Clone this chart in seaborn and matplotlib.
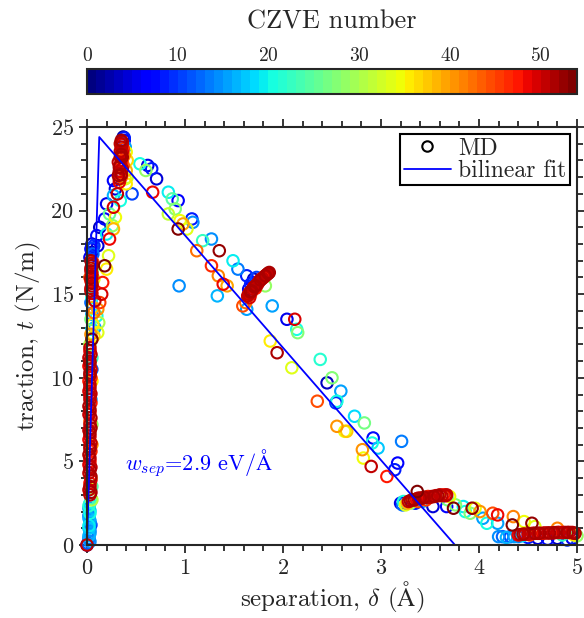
import numpy as np
import pandas as pd
import matplotlib
matplotlib.use('Agg')
import matplotlib.pyplot as plt
import seaborn as sns
from matplotlib.colors import Normalize
from matplotlib.lines import Line2D
from matplotlib.ticker import MultipleLocator

sns.set_style('ticks')
plt.rcParams['font.family'] = ['cmr10', 'DejaVu Serif']
plt.rcParams['mathtext.fontset'] = 'cm'
plt.rcParams['axes.formatter.use_mathtext'] = True

# MD points: (separation, traction, CZVE number)
column_pts = [
    (0.00, 0.0, 2), (0.01, 0.1, 11), (0.02, 0.4, 12), (0.03, 0.7, 15), (0.02, 1.0, 17),
    (0.03, 1.3, 13), (0.02, 1.6, 16), (0.03, 1.9, 20), (0.02, 2.2, 14), (0.03, 2.5, 18),
    (0.03, 0.2, 14), (0.02, 0.55, 16), (0.03, 0.85, 13), (0.02, 1.15, 19), (0.03, 1.45, 15),
    (0.02, 1.75, 12), (0.03, 2.05, 17), (0.02, 2.35, 21), (0.04, 2.8, 23), (0.04, 1.2, 10),
    (0.03, 3.0, 50), (0.02, 3.3, 50), (0.03, 3.7, 47), (0.04, 4.1, 51), (0.03, 4.5, 51),
    (0.02, 4.8, 49), (0.03, 5.2, 50), (0.04, 5.6, 46), (0.03, 5.9, 50), (0.02, 6.3, 48),
    (0.03, 6.7, 51), (0.04, 7.0, 51), (0.03, 7.4, 44), (0.02, 7.8, 50), (0.03, 8.1, 51),
    (0.04, 8.5, 47), (0.03, 8.9, 50), (0.02, 9.2, 49), (0.03, 9.6, 50), (0.04, 10.0, 46),
    (0.03, 10.3, 51), (0.02, 10.7, 48), (0.03, 11.0, 51), (0.04, 11.4, 50), (0.03, 11.8, 50),
    (0.04, 3.15, 51), (0.03, 3.5, 51), (0.04, 3.9, 49), (0.02, 4.3, 50), (0.04, 4.65, 50),
    (0.03, 5.0, 47), (0.02, 5.4, 51), (0.03, 5.75, 51), (0.04, 6.1, 50), (0.03, 6.5, 49),
    (0.02, 6.85, 50), (0.03, 7.2, 50), (0.04, 7.6, 51), (0.03, 7.95, 48), (0.02, 8.3, 51),
    (0.03, 8.7, 50), (0.04, 9.05, 50), (0.03, 9.4, 50), (0.02, 9.8, 47), (0.03, 10.15, 51),
    (0.04, 10.5, 49), (0.03, 10.85, 50), (0.02, 11.2, 50), (0.03, 11.6, 48),
    (0.05, 11.2, 22), (0.05, 9.8, 35), (0.04, 8.7, 15), (0.05, 7.2, 28), (0.05, 6.0, 40),
    (0.04, 4.0, 33), (0.05, 3.5, 24), (0.05, 2.7, 30), (0.05, 10.5, 12), (0.00, 0.0, 50),
    (0.05, 12.3, 53), (0.03, 12.0, 30), (0.05, 12.9, 18), (0.04, 12.6, 40), (0.04, 13.5, 26),
    (0.05, 13.8, 15), (0.06, 14.2, 38), (0.04, 14.5, 12), (0.05, 14.8, 20), (0.07, 13.9, 42),
    (0.08, 14.6, 50), (0.07, 12.5, 36), (0.11, 12.7, 33), (0.06, 13.2, 35),
    (0.04, 17.0, 51), (0.05, 16.7, 51), (0.04, 16.4, 49), (0.05, 16.1, 50), (0.04, 15.8, 47),
    (0.05, 15.5, 50), (0.04, 15.2, 50), (0.06, 16.9, 45), (0.03, 16.0, 44), (0.06, 16.5, 28),
    (0.05, 16.85, 50), (0.04, 16.55, 50), (0.05, 16.25, 48), (0.04, 15.95, 51), (0.05, 15.65, 51),
    (0.04, 15.35, 50), (0.05, 15.05, 49),
    (0.07, 15.9, 33), (0.05, 18.0, 3), (0.04, 17.7, 7), (0.06, 17.4, 12), (0.03, 17.2, 5),
    (0.07, 17.9, 9), (0.05, 17.5, 2), (0.06, 17.75, 10),
]

rise_pts = [
    (0.27, 21.8, 6), (0.29, 21.3, 4), (0.31, 21.0, 50), (0.27, 20.9, 16), (0.46, 21.0, 10),
    (0.20, 20.4, 5), (0.27, 20.2, 49), (0.34, 20.6, 20), (0.23, 19.8, 25), (0.29, 19.6, 34),
    (0.18, 19.5, 6), (0.26, 19.1, 28), (0.13, 19.0, 3), (0.20, 18.6, 19), (0.27, 18.9, 38),
    (0.23, 18.3, 48), (0.10, 18.5, 7), (0.11, 17.9, 4), (0.22, 17.3, 33), (0.20, 16.5, 35),
    (0.18, 16.7, 53), (0.16, 15.7, 47), (0.15, 15.0, 49), (0.13, 14.5, 45), (0.11, 14.1, 40),
    (0.10, 13.7, 20), (0.12, 13.3, 30), (0.08, 13.0, 15),
]

peak_pts = [
    (0.37, 24.4, 2), (0.38, 24.2, 6), (0.36, 24.0, 10), (0.39, 23.8, 15), (0.38, 24.35, 8),
    (0.40, 23.5, 34), (0.41, 23.0, 36), (0.40, 22.4, 38), (0.39, 21.9, 33), (0.41, 22.0, 31),
    (0.40, 21.6, 35), (0.36, 24.1, 50), (0.35, 23.8, 50), (0.36, 23.5, 49), (0.34, 23.2, 51),
    (0.35, 22.9, 47), (0.33, 22.6, 51), (0.34, 22.3, 46), (0.32, 22.1, 51), (0.35, 22.0, 44),
    (0.33, 21.7, 48), (0.36, 23.0, 42), (0.37, 23.7, 45), (0.34, 24.0, 50), (0.32, 22.9, 50),
    (0.36, 22.5, 50), (0.35, 23.35, 51), (0.34, 22.75, 50), (0.33, 22.35, 49), (0.35, 24.2, 51),
    (0.36, 23.95, 48), (0.34, 23.55, 50), (0.35, 22.15, 51), (0.33, 21.9, 50), (0.36, 23.2, 51),
    (0.37, 22.7, 43), (0.38, 23.3, 40),
]

descent_pts = [
    (0.54, 22.8, 20), (0.62, 22.7, 5), (0.60, 22.4, 28), (0.66, 22.5, 8), (0.71, 21.9, 4),
    (0.67, 21.1, 48), (0.83, 21.1, 19), (0.87, 20.7, 24), (0.93, 20.6, 6), (0.90, 20.1, 27),
    (0.83, 19.8, 31), (0.95, 19.4, 34), (1.02, 18.9, 33), (0.93, 18.9, 53), (0.98, 19.2, 39),
    (1.07, 19.5, 8), (1.08, 19.3, 14), (1.18, 18.2, 22), (1.27, 18.3, 14), (1.12, 17.6, 42),
    (1.35, 17.6, 52), (1.49, 17.0, 19), (1.54, 16.5, 13), (1.27, 16.7, 46), (1.34, 16.1, 41),
    (1.39, 15.6, 48), (1.43, 15.5, 39), (0.94, 15.5, 14), (1.33, 14.9, 16), (1.63, 16.1, 8),
    (1.59, 14.3, 44), (1.63, 14.1, 15), (1.89, 14.3, 15), (2.04, 13.5, 5), (2.12, 13.5, 49),
    (2.14, 12.9, 20), (2.15, 12.7, 27), (1.87, 12.2, 35), (1.94, 11.5, 51), (2.09, 10.6, 33),
    (2.38, 11.1, 21), (2.50, 10.0, 27), (2.45, 9.7, 3), (2.59, 9.2, 15), (2.54, 8.5, 9),
    (2.55, 8.6, 20), (2.35, 8.6, 44), (2.73, 7.7, 18), (2.83, 7.3, 26), (2.55, 7.1, 40),
    (2.63, 6.8, 34), (2.65, 6.8, 37), (2.92, 6.4, 7), (3.21, 6.2, 13), (2.91, 6.1, 20),
    (2.97, 5.8, 17), (2.81, 5.7, 40), (2.82, 5.2, 34), (2.90, 4.7, 50), (3.06, 4.1, 47),
    (3.14, 4.5, 8), (3.17, 4.9, 6), (3.37, 3.2, 53),
]

knee1_pts = [
    (1.65, 15.3, 5), (1.67, 15.6, 8), (1.70, 15.9, 3), (1.73, 16.0, 10), (1.66, 15.0, 12),
    (1.69, 15.7, 6), (1.82, 15.5, 28), (1.62, 14.5, 42),
    (1.64, 14.9, 50), (1.66, 15.1, 50), (1.68, 15.2, 51), (1.70, 15.4, 48), (1.72, 15.5, 51),
    (1.74, 15.6, 50), (1.76, 15.8, 49), (1.78, 15.9, 50), (1.80, 16.0, 47), (1.82, 16.1, 51),
    (1.84, 16.2, 50), (1.86, 16.3, 51), (1.67, 15.0, 45),
    (1.65, 15.0, 50), (1.67, 15.15, 51), (1.69, 15.3, 50), (1.71, 15.45, 51), (1.73, 15.55, 50),
    (1.75, 15.7, 50), (1.77, 15.85, 51), (1.79, 15.95, 50), (1.81, 16.05, 50), (1.83, 16.15, 50),
    (1.85, 16.25, 51), (1.66, 14.8, 49), (1.72, 15.35, 47),
]

knee2_pts = [
    (3.20, 2.5, 5), (3.22, 2.4, 12), (3.25, 2.4, 33), (3.23, 2.6, 20), (3.27, 2.5, 38),
    (3.30, 2.5, 28), (3.35, 2.5, 8), (3.42, 2.6, 16), (3.70, 2.9, 34), (3.68, 2.7, 26),
    (3.28, 2.6, 50), (3.32, 2.7, 50), (3.36, 2.75, 48), (3.40, 2.8, 51), (3.44, 2.85, 51),
    (3.48, 2.9, 46), (3.52, 2.9, 50), (3.56, 2.95, 49), (3.60, 3.0, 50), (3.64, 3.0, 47),
    (3.67, 3.0, 50), (3.38, 2.6, 44), (3.46, 2.7, 45),
    (3.30, 2.65, 51), (3.34, 2.7, 51), (3.38, 2.8, 50), (3.42, 2.8, 50), (3.46, 2.85, 50),
    (3.50, 2.85, 50), (3.54, 2.9, 51), (3.58, 2.95, 51), (3.62, 2.95, 50), (3.66, 2.95, 50),
    (3.53, 2.3, 4), (3.67, 2.3, 6), (3.74, 2.2, 53), (3.76, 2.4, 27), (3.84, 2.3, 19),
    (3.86, 2.0, 20), (3.93, 2.2, 52), (3.96, 2.2, 34), (4.01, 2.0, 40), (3.91, 1.9, 27),
    (4.04, 1.6, 15), (4.08, 1.3, 20), (4.14, 1.9, 44), (4.19, 1.8, 48), (4.19, 1.3, 15),
    (4.35, 1.7, 41), (4.34, 1.2, 53), (4.46, 1.4, 34), (4.54, 1.3, 52), (4.57, 1.1, 33),
    (4.80, 1.0, 41),
]

tail_pts = [
    (4.20, 0.5, 14), (4.24, 0.5, 12), (4.28, 0.45, 16), (4.32, 0.5, 10), (4.36, 0.5, 15),
    (4.40, 0.5, 13), (4.44, 0.55, 18), (4.60, 0.4, 4), (4.70, 0.35, 7), (4.80, 0.4, 3),
    (4.90, 0.3, 9), (4.95, 0.4, 5), (4.50, 0.45, 8),
    (4.40, 0.6, 48), (4.45, 0.65, 51), (4.50, 0.65, 50), (4.55, 0.7, 49), (4.60, 0.7, 50),
    (4.65, 0.7, 46), (4.70, 0.72, 50), (4.75, 0.72, 50), (4.80, 0.75, 50), (4.85, 0.75, 47),
    (4.90, 0.75, 51), (4.95, 0.75, 49), (4.98, 0.7, 51), (4.52, 0.6, 44),
    (4.42, 0.62, 50), (4.47, 0.65, 50), (4.52, 0.68, 50), (4.57, 0.7, 51), (4.62, 0.7, 51),
    (4.67, 0.72, 50), (4.72, 0.72, 51), (4.77, 0.74, 51), (4.82, 0.75, 50), (4.87, 0.75, 50),
    (4.92, 0.75, 50), (4.96, 0.72, 51),
    (5.00, 0.55, 28), (4.97, 0.6, 35), (4.85, 0.6, 22),
]

# bilinear fit
fit_sep = [0.0, 0.125, 3.755, 5.0]
fit_trac = [0.0, 24.4, 0.0, 0.0]

w_sep_text = r'$w_{sep}$=2.9 eV/$\mathrm{\AA}$'

all_pts = column_pts + rise_pts + peak_pts + descent_pts + knee1_pts + knee2_pts + tail_pts
df = pd.DataFrame(all_pts, columns=['sep', 'trac', 'czve'])
df = df.sort_values('czve', kind='stable').reset_index(drop=True)

cmap = plt.get_cmap('jet', 54)
norm = Normalize(vmin=0, vmax=54)

fig = plt.figure(figsize=(5.84, 6.18), dpi=100)
ax = fig.add_axes([87 / 584, 1 - 545 / 618, 490 / 584, 418 / 618])

sns.scatterplot(data=df, x='sep', y='trac', hue='czve', palette=cmap, hue_norm=norm,
                legend=False, s=68, linewidth=1.5, ax=ax, clip_on=False)
pts = ax.collections[0]
cols = cmap(norm(df['czve'].values))
pts.set_edgecolors(cols)
pts.set_facecolors('none')

sns.lineplot(x=fit_sep, y=fit_trac, color='#0000ff', linewidth=1.3, ax=ax,
             sort=False, estimator=None)

ax.text(0.39, 4.9, w_sep_text, color='#0000ff', fontsize=16, va='center', ha='left')

ax.set_xlim(0, 5)
ax.set_ylim(0, 25)
ax.xaxis.set_major_locator(MultipleLocator(1))
ax.xaxis.set_minor_locator(MultipleLocator(0.2))
ax.yaxis.set_major_locator(MultipleLocator(5))
ax.yaxis.set_minor_locator(MultipleLocator(1))
ax.tick_params(which='both', direction='out', top=True, right=True, width=1.3, labelsize=16)
ax.tick_params(which='major', length=6)
ax.tick_params(which='minor', length=4)
for sp in ax.spines.values():
    sp.set_linewidth(1.5)
ax.set_xlabel(r'separation, $\delta$ ($\mathrm{\AA}$)', fontsize=18, labelpad=1)
ax.set_ylabel(r'traction, $t$ (N/m)', fontsize=18, labelpad=5)

handles = [
    Line2D([], [], marker='o', linestyle='none', markerfacecolor='none',
           markeredgecolor='black', markersize=7.5, markeredgewidth=1.5, label='MD'),
    Line2D([], [], color='#0000ff', linewidth=1.3, label='bilinear fit'),
]
leg = ax.legend(handles=handles, loc='upper right', fontsize=17, frameon=True,
                fancybox=False, framealpha=1, edgecolor='black', borderpad=0.15,
                labelspacing=0.0, handlelength=2.0, handletextpad=0.3,
                borderaxespad=0.3)
leg.get_frame().set_linewidth(1.5)

cax = fig.add_axes([87 / 584, 1 - 94 / 618, 490 / 584, 25 / 618])
sm = plt.cm.ScalarMappable(norm=norm, cmap=cmap)
cb = fig.colorbar(sm, cax=cax, orientation='horizontal', ticks=[0, 10, 20, 30, 40, 50])
cax.tick_params(direction='in', top=True, bottom=True, labeltop=True, labelbottom=False,
                length=4, width=1.3, labelsize=14, pad=3)
cb.outline.set_linewidth(1.5)
fig.text(332 / 584, 1 - 22 / 618, 'CZVE number', ha='center', va='center', fontsize=19)

fig.savefig('out.png', dpi=100)
